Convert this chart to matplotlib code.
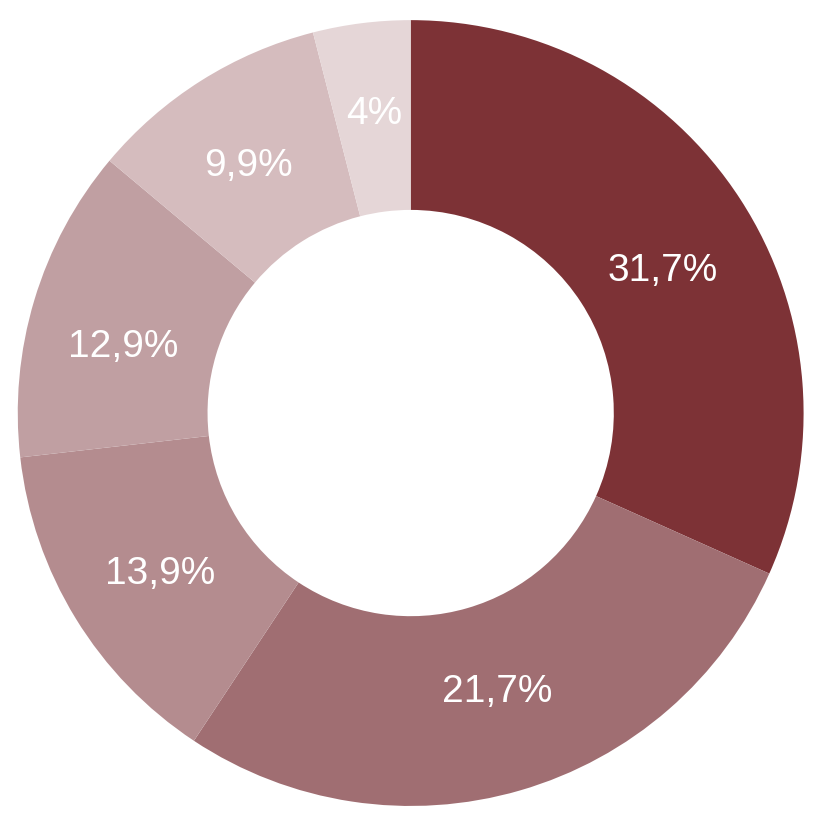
import matplotlib
matplotlib.use("Agg")
import matplotlib.pyplot as plt
import numpy as np

# Data (angular shares as drawn; labels as printed)
shares = [31.7, 27.6, 13.9, 12.9, 9.9, 4.0]
labels = ["31,7%", "21,7%", "13,9%", "12,9%", "9,9%", "4%"]
colors = ["#7D3236", "#A06E72", "#B48C8F", "#C09FA2", "#D5BCBE", "#E5D6D7"]

# label placement style tweaks (degrees of nudge along the ring, radial position)
label_nudge = [-3.5, 1.1, 1.2, 3.8, 1.0, -0.3]
label_r = [0.735, 0.743, 0.758, 0.75, 0.753, 0.766]

fig = plt.figure(figsize=(8.22, 8.32), dpi=100)
ax = fig.add_axes([0.0216, 0.0312, 0.956, 0.9447])
ax.set_aspect("equal")

wedges, _ = ax.pie(
    shares, colors=colors, startangle=90, counterclock=False,
    wedgeprops=dict(width=0.483, edgecolor="none", linewidth=0),
    radius=1.0,
)
for w, lab, dn, r in zip(wedges, labels, label_nudge, label_r):
    mid = np.deg2rad((w.theta1 + w.theta2) / 2 + dn)
    ax.text(r * np.cos(mid), r * np.sin(mid), lab, color="white", fontsize=28,
            family=["Liberation Sans", "DejaVu Sans"], ha="center", va="center")

ax.set_xlim(-1, 1)
ax.set_ylim(-1, 1)
ax.axis("off")

fig.savefig("out.png", dpi=100, facecolor="white")
